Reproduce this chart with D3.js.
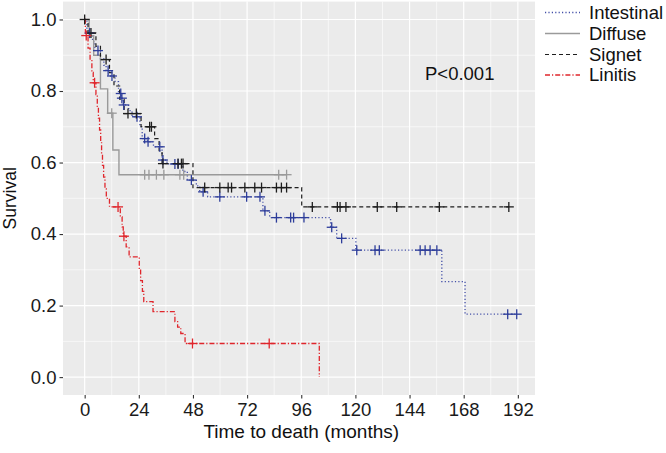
<!DOCTYPE html>
<html>
<head>
<meta charset="utf-8">
<script src="https://cdn.jsdelivr.net/npm/d3@7"></script>
<style>
  html, body { margin: 0; padding: 0; background: #ffffff; }
  svg { display: block; }
  text { font-family: "Liberation Sans", Arial, Helvetica, sans-serif; }
</style>
</head>
<body>
<svg id="chart" width="666" height="453"></svg>
<script>
// ---------------- data ----------------
const seriesNames = ["Intestinal", "Diffuse", "Signet", "Linitis"];

// Intestinal
const intestinalTime = [1.0, 3.5, 4.5, 7.0, 8.5, 9.5, 11.5, 13.5, 15.0, 16.2, 17.0, 19.5, 21.0, 24.5, 25.5, 27.8, 30.5, 34.3, 36.5, 43.5, 45.5, 49.5, 51.0, 54.5, 79.0, 82.0, 109.0, 111.7, 120.2, 158.3, 168.6];
const intestinalSurv = [0.962, 0.938, 0.913, 0.89, 0.872, 0.857, 0.842, 0.826, 0.793, 0.78, 0.761, 0.745, 0.728, 0.70, 0.667, 0.658, 0.644, 0.607, 0.596, 0.575, 0.551, 0.535, 0.518, 0.504, 0.465, 0.446, 0.419, 0.388, 0.355, 0.267, 0.176];
const intestinalCensor = [2.2, 5.9, 10.4, 12.1, 16.0, 16.5, 17.3, 23.2, 26.6, 28.1, 33.3, 34.7, 40.0, 41.4, 47.3, 52.5, 59.9, 71.8, 77.7, 79.9, 85.0, 91.3, 92.6, 97.2, 109.5, 113.9, 120.6, 128.7, 130.6, 148.7, 150.9, 153.1, 156.1, 187.5, 191.5];

// Diffuse
const diffuseTime = [2.0, 4.0, 7.0, 10.2, 12.5, 15.2];
const diffuseSurv = [0.955, 0.9, 0.806, 0.738, 0.635, 0.566];
const diffuseCensor = [12.0, 26.6, 28.5, 31.8, 35.1, 42.2, 43.9, 86.0, 89.5];

// Signet
const signetTime = [1.5, 5.0, 7.0, 11.0, 13.0, 15.5, 17.5, 25.0, 31.0, 33.0, 34.3, 48.0, 96.2];
const signetSurv = [0.962, 0.925, 0.888, 0.851, 0.814, 0.777, 0.737, 0.70, 0.667, 0.633, 0.597, 0.53, 0.476];
const signetCensor = [0.0, 2.8, 9.5, 19.2, 22.9, 28.8, 29.6, 34.7, 41.4, 42.9, 43.6, 53.2, 59.9, 63.6, 65.1, 71.0, 75.4, 78.4, 85.0, 87.2, 89.5, 100.9, 112.0, 113.2, 115.8, 129.7, 138.3, 157.2, 188.0];

// Linitis
const linitisTime = [0.3, 1.5, 2.4, 3.2, 3.8, 5.0, 5.6, 6.1, 6.6, 7.1, 7.5, 7.9, 8.4, 9.0, 9.6, 11.0, 15.8, 16.6, 17.1, 18.4, 19.7, 24.2, 24.8, 25.6, 26.2, 30.3, 40.0, 41.2, 42.6, 44.5, 104.0];
const linitisSurv = [0.955, 0.92, 0.885, 0.852, 0.823, 0.79, 0.757, 0.724, 0.691, 0.658, 0.625, 0.592, 0.559, 0.526, 0.50, 0.476, 0.448, 0.42, 0.394, 0.364, 0.336, 0.302, 0.27, 0.24, 0.211, 0.183, 0.155, 0.14, 0.122, 0.094, 0.0];
const linitisCensor = [0.7, 4.4, 14.8, 17.4, 47.8, 81.8];

const xTicks = [0, 24, 48, 72, 96, 120, 144, 168, 192];
const xMinor = [12, 36, 60, 84, 108, 132, 156, 180];
const yTicks = [0.0, 0.2, 0.4, 0.6, 0.8, 1.0];
const yMinor = [0.1, 0.3, 0.5, 0.7, 0.9];
const pText = "P<0.001";
const xTitle = "Time to death (months)";
const yTitle = "Survival";

// ---------------- styles ----------------
const styles = {
  Intestinal: { line: "#4450a8", mark: "#2d3d9a", dash: "1.2,2.2", width: 1.3 },
  Diffuse:    { line: "#9a9a9a", mark: "#9a9a9a", dash: null,      width: 1.4 },
  Signet:     { line: "#1e1e1e", mark: "#1e1e1e", dash: "4,3",     width: 1.2 },
  Linitis:    { line: "#e0262c", mark: "#e0262c", dash: "5,2,1.2,2", width: 1.3 }
};

const series = [
  { name: "Intestinal", time: intestinalTime, surv: intestinalSurv, censor: intestinalCensor },
  { name: "Diffuse",    time: diffuseTime,    surv: diffuseSurv,    censor: diffuseCensor },
  { name: "Signet",     time: signetTime,     surv: signetSurv,     censor: signetCensor },
  { name: "Linitis",    time: linitisTime,    surv: linitisSurv,    censor: linitisCensor }
];

// ---------------- layout ----------------
const svg = d3.select("#chart");
const panel = { left: 63, right: 535, top: 1.6, bottom: 395 };
const x = d3.scaleLinear().domain([-9.6, 199.6]).range([panel.left, panel.right]);
const y = d3.scaleLinear().domain([-0.05, 1.05]).range([panel.bottom, panel.top]);

svg.append("rect")
  .attr("x", panel.left).attr("y", panel.top)
  .attr("width", panel.right - panel.left).attr("height", panel.bottom - panel.top)
  .attr("fill", "#ebebeb");

const grid = svg.append("g");
grid.selectAll(".vminor").data(xMinor).join("line")
  .attr("x1", d => x(d)).attr("x2", d => x(d))
  .attr("y1", panel.top).attr("y2", panel.bottom)
  .attr("stroke", "#ffffff").attr("stroke-width", 0.6);
grid.selectAll(".hminor").data(yMinor).join("line")
  .attr("y1", d => y(d)).attr("y2", d => y(d))
  .attr("x1", panel.left).attr("x2", panel.right)
  .attr("stroke", "#ffffff").attr("stroke-width", 0.6);
grid.selectAll(".vmajor").data(xTicks).join("line")
  .attr("x1", d => x(d)).attr("x2", d => x(d))
  .attr("y1", panel.top).attr("y2", panel.bottom)
  .attr("stroke", "#ffffff").attr("stroke-width", 1.2);
grid.selectAll(".hmajor").data(yTicks).join("line")
  .attr("y1", d => y(d)).attr("y2", d => y(d))
  .attr("x1", panel.left).attr("x2", panel.right)
  .attr("stroke", "#ffffff").attr("stroke-width", 1.2);

// axes
const xAxis = d3.axisBottom(x).tickValues(xTicks).tickSize(3.5).tickPadding(4).tickFormat(d3.format("d"));
const gx = svg.append("g").attr("transform", `translate(0,${panel.bottom})`).call(xAxis);
gx.select(".domain").remove();
gx.selectAll(".tick line").attr("stroke", "#333333").attr("stroke-width", 1.1);
gx.selectAll(".tick text").attr("font-size", 18.5).attr("fill", "#1a1a1a")
  .attr("font-family", "'Liberation Sans', Arial, sans-serif");

const yAxis = d3.axisLeft(y).tickValues(yTicks).tickSize(3.5).tickPadding(3).tickFormat(d3.format(".1f"));
const gy = svg.append("g").attr("transform", `translate(${panel.left},0)`).call(yAxis);
gy.select(".domain").remove();
gy.selectAll(".tick line").attr("stroke", "#333333").attr("stroke-width", 1.1);
gy.selectAll(".tick text").attr("font-size", 18.5).attr("fill", "#1a1a1a")
  .attr("font-family", "'Liberation Sans', Arial, sans-serif");

svg.append("text").text(xTitle)
  .attr("x", (x(0) + x(192)) / 2).attr("y", 438)
  .attr("text-anchor", "middle").attr("font-size", 19).attr("fill", "#111");

svg.append("text").text(yTitle)
  .attr("transform", `translate(16,${(y(0) + y(1)) / 2}) rotate(-90)`)
  .attr("text-anchor", "middle").attr("font-size", 17.5).attr("fill", "#111");

// ---------------- curves ----------------
function stepValue(s, t) {
  let v = 1;
  for (let i = 0; i < s.time.length; i++) { if (s.time[i] <= t) v = s.surv[i]; }
  return v;
}

const lineGen = d3.line().x(d => x(d[0])).y(d => y(d[1])).curve(d3.curveStepAfter);

const curves = svg.append("g");
series.forEach(s => {
  const st = styles[s.name];
  const end = Math.max(d3.max(s.time), d3.max(s.censor));
  const pts = [[0, 1]];
  s.time.forEach((t, i) => pts.push([t, s.surv[i]]));
  pts.push([end, stepValue(s, end)]);
  curves.append("path")
    .attr("d", lineGen(pts))
    .attr("fill", "none")
    .attr("stroke", st.line)
    .attr("stroke-width", st.width)
    .attr("stroke-dasharray", st.dash);
});

// censor marks
const half = 5;
series.forEach(s => {
  const st = styles[s.name];
  const g = curves.append("g");
  s.censor.forEach(t => {
    const cx = x(t), cy = y(stepValue(s, t));
    g.append("line").attr("x1", cx - half).attr("x2", cx + half).attr("y1", cy).attr("y2", cy)
      .attr("stroke", st.mark).attr("stroke-width", 1.3);
    g.append("line").attr("x1", cx).attr("x2", cx).attr("y1", cy - half).attr("y2", cy + half)
      .attr("stroke", st.mark).attr("stroke-width", 1.3);
  });
});

// P value
svg.append("text").text(pText)
  .attr("x", 425).attr("y", 80)
  .attr("font-size", 18.5).attr("fill", "#111");

// ---------------- legend ----------------
const legend = svg.append("g");
const legY = [12.5, 33.5, 54.5, 75];
seriesNames.forEach((n, i) => {
  const st = styles[n];
  legend.append("line")
    .attr("x1", 545).attr("x2", 580).attr("y1", legY[i]).attr("y2", legY[i])
    .attr("stroke", st.line).attr("stroke-width", st.width)
    .attr("stroke-dasharray", st.dash);
  legend.append("text").text(n)
    .attr("x", 589).attr("y", legY[i]).attr("dy", "0.35em")
    .attr("font-size", 18.5).attr("fill", "#111");
});
</script>
</body>
</html>
